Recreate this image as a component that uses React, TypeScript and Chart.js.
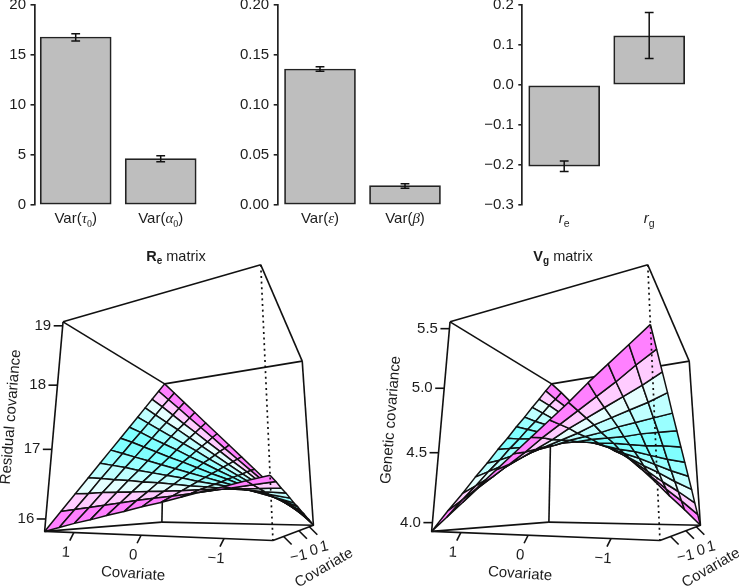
import React, { useEffect, useRef } from "react";
import { Chart, registerables } from "chart.js";
Chart.register(...registerables);

const INK = "#1c1c1c";
const SANS = '"Liberation Sans"';
const SERIF = '"Liberation Serif"';

const barValues1 = [16.8, 4.63];
const barLow1 = [16.4, 4.33];
const barHigh1 = [17.13, 4.93];
const barValues2 = [0.136, 0.0193];
const barLow2 = [0.1337, 0.0167];
const barHigh2 = [0.1383, 0.0213];
const barValues3 = [-0.203, 0.123];
const barLow3 = [-0.216, 0.066];
const barHigh3 = [-0.19, 0.181];

type Seg = { t: string; font: string; dy?: number };
const reg = (t: string): Seg => ({ t, font: `15px ${SANS}` });
const greek = (t: string): Seg => ({ t, font: `italic 15px ${SERIF}` });
const sub = (t: string): Seg => ({ t, font: `10px ${SERIF}`, dy: 4 });
const sub2 = (t: string): Seg => ({ t, font: `10.5px ${SANS}`, dy: 4 });
const categories1 = [
  [reg("Var("), greek("τ"), sub("0"), reg(")")],
  [reg("Var("), greek("α"), sub("0"), reg(")")],
];
const categories2 = [
  [reg("Var("), greek("ε"), reg(")")],
  [reg("Var("), greek("β"), reg(")")],
];
const categories3 = [
  [{ t: "r", font: `italic 15px ${SANS}` }, sub2("e")],
  [{ t: "r", font: `italic 15px ${SANS}` }, sub2("g")],
];

const covariateGrid = [-1.5, -1.25, -1, -0.75, -0.5, -0.25, 0, 0.25, 0.5, 0.75, 1, 1.25, 1.5];
const covariateTicks = [1, 0, -1];
const rowColors = ["#FF80FF", "#FFCCFF", "#E5FFFF", "#BFFFFF", "#99FFFF", "#80FFFF", "#80FFFF", "#99FFFF", "#BFFFFF", "#E5FFFF", "#FFCCFF", "#FF80FF"];

const residualCov = [
  [16.50, 16.45, 16.39, 16.34, 16.28, 16.22, 16.17, 16.11, 16.06, 16.00, 15.95, 15.89, 15.83],
  [16.45, 16.42, 16.39, 16.36, 16.33, 16.30, 16.28, 16.25, 16.22, 16.19, 16.16, 16.13, 16.10],
  [16.39, 16.39, 16.39, 16.39, 16.39, 16.38, 16.38, 16.38, 16.38, 16.38, 16.37, 16.37, 16.37],
  [16.34, 16.36, 16.39, 16.41, 16.44, 16.46, 16.49, 16.51, 16.54, 16.57, 16.59, 16.62, 16.64],
  [16.28, 16.33, 16.39, 16.44, 16.49, 16.54, 16.60, 16.65, 16.70, 16.75, 16.81, 16.86, 16.91],
  [16.22, 16.30, 16.38, 16.46, 16.54, 16.62, 16.70, 16.78, 16.86, 16.94, 17.02, 17.10, 17.18],
  [16.17, 16.28, 16.38, 16.49, 16.60, 16.70, 16.81, 16.92, 17.02, 17.13, 17.24, 17.34, 17.45],
  [16.11, 16.25, 16.38, 16.52, 16.65, 16.78, 16.92, 17.05, 17.19, 17.32, 17.45, 17.59, 17.72],
  [16.06, 16.22, 16.38, 16.54, 16.70, 16.86, 17.02, 17.19, 17.35, 17.51, 17.67, 17.83, 17.99],
  [16.00, 16.19, 16.38, 16.57, 16.75, 16.94, 17.13, 17.32, 17.51, 17.70, 17.88, 18.07, 18.26],
  [15.95, 16.16, 16.38, 16.59, 16.81, 17.02, 17.24, 17.45, 17.67, 17.88, 18.10, 18.32, 18.53],
  [15.89, 16.13, 16.37, 16.62, 16.86, 17.10, 17.35, 17.59, 17.83, 18.07, 18.32, 18.56, 18.80],
  [15.83, 16.10, 16.37, 16.64, 16.91, 17.18, 17.45, 17.72, 17.99, 18.26, 18.53, 18.80, 19.07],
];
const geneticCov = [
  [5.16, 5.06, 4.96, 4.86, 4.75, 4.65, 4.55, 4.45, 4.35, 4.25, 4.14, 4.04, 3.94],
  [5.06, 4.98, 4.89, 4.81, 4.73, 4.65, 4.57, 4.48, 4.40, 4.32, 4.24, 4.16, 4.08],
  [4.96, 4.89, 4.83, 4.77, 4.71, 4.65, 4.58, 4.52, 4.46, 4.40, 4.33, 4.27, 4.21],
  [4.86, 4.81, 4.77, 4.73, 4.69, 4.64, 4.60, 4.56, 4.52, 4.47, 4.43, 4.39, 4.35],
  [4.75, 4.73, 4.71, 4.69, 4.66, 4.64, 4.62, 4.59, 4.57, 4.55, 4.53, 4.50, 4.48],
  [4.65, 4.65, 4.65, 4.64, 4.64, 4.64, 4.63, 4.63, 4.63, 4.62, 4.62, 4.62, 4.62],
  [4.55, 4.57, 4.58, 4.60, 4.62, 4.63, 4.65, 4.67, 4.68, 4.70, 4.72, 4.73, 4.75],
  [4.45, 4.48, 4.52, 4.56, 4.59, 4.63, 4.67, 4.70, 4.74, 4.78, 4.81, 4.85, 4.88],
  [4.35, 4.40, 4.46, 4.52, 4.57, 4.63, 4.68, 4.74, 4.80, 4.85, 4.91, 4.96, 5.02],
  [4.25, 4.32, 4.40, 4.47, 4.55, 4.62, 4.70, 4.78, 4.85, 4.93, 5.00, 5.08, 5.16],
  [4.14, 4.24, 4.33, 4.43, 4.53, 4.62, 4.72, 4.81, 4.91, 5.00, 5.10, 5.20, 5.29],
  [4.04, 4.16, 4.27, 4.39, 4.50, 4.62, 4.73, 4.85, 4.96, 5.08, 5.20, 5.31, 5.43],
  [3.94, 4.08, 4.21, 4.35, 4.48, 4.62, 4.75, 4.89, 5.02, 5.16, 5.29, 5.43, 5.56],
];
const residualTicks = [16, 17, 18, 19];
const geneticTicks = [4.0, 4.5, 5.0, 5.5];

// Calibration of the 3-D box: pixel position of its eight corners in the page.
const boxPixels: [number, number][] = [
  [44.3, 531], [272.7, 541], [313.3, 525], [162.3, 522.3],
  [63.3, 321.7], [261, 265], [302.3, 361], [164.3, 384],
];
const boxUnit = [
  [0, 0, 0], [1, 0, 0], [1, 1, 0], [0, 1, 0],
  [0, 0, 1], [1, 0, 1], [1, 1, 1], [0, 1, 1],
];

function solve(A: number[][], b: number[]) {
  const n = b.length;
  const M = A.map((r, i) => [...r, b[i]]);
  for (let i = 0; i < n; i++) {
    let p = i;
    for (let k = i + 1; k < n; k++) if (Math.abs(M[k][i]) > Math.abs(M[p][i])) p = k;
    [M[i], M[p]] = [M[p], M[i]];
    for (let k = i + 1; k < n; k++) {
      const f = M[k][i] / M[i][i];
      for (let j = i; j <= n; j++) M[k][j] -= f * M[i][j];
    }
  }
  const x = new Array(n).fill(0);
  for (let i = n - 1; i >= 0; i--) {
    let s = M[i][n];
    for (let j = i + 1; j < n; j++) s -= M[i][j] * x[j];
    x[i] = s / M[i][i];
  }
  return x;
}
function calibrate() {
  const rows: number[][] = [];
  const rhs: number[] = [];
  boxUnit.forEach(([s, t, h], i) => {
    const u = boxPixels[i][0] / 300;
    const v = boxPixels[i][1] / 300;
    rows.push([s, t, h, 1, 0, 0, 0, 0, -u * s, -u * t, -u * h]);
    rhs.push(u);
    rows.push([0, 0, 0, 0, s, t, h, 1, -v * s, -v * t, -v * h]);
    rhs.push(v);
  });
  const n = 11;
  const N = Array.from({ length: n }, (_, i) =>
    Array.from({ length: n }, (_, j) => rows.reduce((acc, r) => acc + r[i] * r[j], 0))
  );
  const y = Array.from({ length: n }, (_, i) => rows.reduce((acc, r, k) => acc + r[i] * rhs[k], 0));
  return solve(N, y);
}
const P = calibrate();
function project(s: number, t: number, h: number) {
  const w = P[8] * s + P[9] * t + P[10] * h + 1;
  return {
    x: (300 * (P[0] * s + P[1] * t + P[2] * h + P[3])) / w,
    y: (300 * (P[4] * s + P[5] * t + P[6] * h + P[7])) / w,
    w,
  };
}

function richWidth(ctx: CanvasRenderingContext2D, segs: Seg[]) {
  return segs.reduce((acc, s) => {
    ctx.font = s.font;
    return acc + ctx.measureText(s.t).width;
  }, 0);
}
function drawRich(ctx: CanvasRenderingContext2D, segs: Seg[], cx: number, y: number) {
  let x = cx - richWidth(ctx, segs) / 2;
  ctx.textAlign = "left";
  ctx.textBaseline = "alphabetic";
  ctx.fillStyle = INK;
  segs.forEach((s) => {
    ctx.font = s.font;
    ctx.fillText(s.t, x, y + (s.dy || 0));
    x += ctx.measureText(s.t).width;
  });
}

type BarSpec = {
  left: number; width: number; axisX: number; firstX: number;
  values: number[]; low: number[]; high: number[]; cats: Seg[][];
  min: number; max: number; step: number; digits: number;
};
const barSpecs: BarSpec[] = [
  { left: 0, width: 205, axisX: 34.5, firstX: 75.7, values: barValues1, low: barLow1, high: barHigh1, cats: categories1, min: 0, max: 20, step: 5, digits: 0 },
  { left: 240, width: 205, axisX: 37.7, firstX: 80, values: barValues2, low: barLow2, high: barHigh2, cats: categories2, min: 0, max: 0.2, step: 0.05, digits: 2 },
  { left: 484, width: 205, axisX: 38.3, firstX: 80.2, values: barValues3, low: barLow3, high: barHigh3, cats: categories3, min: -0.3, max: 0.2, step: 0.1, digits: 1 },
];
const BAR_SPACING = 85;
const BAR_WIDTH = 71;

function BarPanel({ spec }: { spec: BarSpec }) {
  const ref = useRef<HTMLCanvasElement>(null);
  useEffect(() => {
    const plugin = {
      id: "errAndLabels",
      afterDatasetsDraw(chart: any) {
        const { ctx, scales } = chart;
        ctx.save();
        ctx.strokeStyle = "#111";
        ctx.lineWidth = 1.5;
        spec.values.forEach((_, i) => {
          const x = scales.x.getPixelForValue(i);
          const a = scales.y.getPixelForValue(spec.low[i]);
          const b = scales.y.getPixelForValue(spec.high[i]);
          ctx.beginPath();
          ctx.moveTo(x, a); ctx.lineTo(x, b);
          ctx.moveTo(x - 4.4, a); ctx.lineTo(x + 4.4, a);
          ctx.moveTo(x - 4.4, b); ctx.lineTo(x + 4.4, b);
          ctx.stroke();
          drawRich(ctx, spec.cats[i], x, 233);
        });
        ctx.restore();
      },
    };
    const chart = new Chart(ref.current!, {
      type: "bar",
      plugins: [plugin],
      data: {
        datasets: [{
          data: spec.values.map((y, i) => ({ x: i, y })) as any,
          backgroundColor: "#BEBEBE",
          borderColor: "#222",
          borderWidth: 1.7,
          borderSkipped: false,
          barThickness: BAR_WIDTH,
        }],
      },
      options: {
        animation: false,
        responsive: false,
        devicePixelRatio: 1,
        layout: { padding: { top: 15, bottom: 35 } },
        plugins: { legend: { display: false }, tooltip: { enabled: false } },
        scales: {
          x: {
            type: "linear", display: false, offset: false,
            min: (spec.axisX - spec.firstX) / BAR_SPACING,
            max: (spec.width - spec.firstX) / BAR_SPACING,
          },
          y: {
            min: spec.min, max: spec.max,
            afterFit: (s: any) => { s.width = spec.axisX; },
            border: { color: "#222", width: 1.7 },
            grid: { drawOnChartArea: false, tickLength: 4, color: "#222", lineWidth: 1.6 },
            ticks: {
              stepSize: spec.step, padding: 4.5, color: INK,
              font: { family: SANS, size: 15 },
              callback: (v: any) => Number(v).toFixed(spec.digits).replace("-", "−"),
            },
          },
        },
      } as any,
    });
    return () => chart.destroy();
  }, []);
  return <canvas ref={ref} width={spec.width} height={250} style={{ position: "absolute", left: spec.left, top: -10 }} />;
}

type SurfSpec = {
  left: number; width: number; shift: number; table: number[][]; zMin: number; zMax: number;
  zTicks: number[]; zDigits: number; zTitle: string; zTitleX: number; zTitleY: number;
  title: Seg[]; titleX: number;
};
const titleFont = `14.5px ${SANS}`;
const surfSpecs: SurfSpec[] = [
  {
    left: 0, width: 370, shift: 0, table: residualCov, zMin: 15.83, zMax: 19.07,
    zTicks: residualTicks, zDigits: 0, zTitle: "Residual covariance", zTitleX: 11, zTitleY: 417,
    title: [{ t: "R", font: `bold ${titleFont}` }, { t: "e", font: `bold 10px ${SANS}`, dy: 3 }, { t: " matrix", font: titleFont }], titleX: 176,
  },
  {
    left: 370, width: 369, shift: 387, table: geneticCov, zMin: 3.94, zMax: 5.56,
    zTicks: geneticTicks, zDigits: 1, zTitle: "Genetic covariance", zTitleX: 391, zTitleY: 420,
    title: [{ t: "V", font: `bold ${titleFont}` }, { t: "g", font: `bold 10px ${SANS}`, dy: 3 }, { t: " matrix", font: titleFont }], titleX: 563,
  },
];

const LW = 1.6;
function SurfacePanel({ spec }: { spec: SurfSpec }) {
  const ref = useRef<HTMLCanvasElement>(null);
  useEffect(() => {
    const sx = (x: number) => (1.5 - x) / 3;
    const ty = (y: number) => (y + 1.5) / 3;
    const hz = (z: number) => (z - spec.zMin) / (spec.zMax - spec.zMin);
    const pt = (s: number, t: number, h: number) => {
      const p = project(s, t, h);
      return { x: p.x + spec.shift, y: p.y };
    };
    const c = boxUnit.map(([s, t, h]) => pt(s, t, h));
    const [A, B, C, D, A1, B1, C1, D1] = c;
    const line = (pts: { x: number; y: number }[], extra: any = {}) => ({
      data: pts, showLine: true, borderColor: "#111", borderWidth: LW, pointRadius: 0, tension: 0, fill: false, ...extra,
    });
    const sets: any[] = [];
    // back of the box
    sets.push(line([A, D]), line([D, C]), line([A1, D1]), line([D1, C1]), line([D, D1]));
    // surface, far to near
    const quads: any[] = [];
    const n = covariateGrid.length;
    for (let i = 0; i < n - 1; i++) {
      for (let j = 0; j < n - 1; j++) {
        const corners = [[i, j], [i + 1, j], [i + 1, j + 1], [i, j + 1]];
        const pts3 = corners.map(([a, b]) => [sx(covariateGrid[a]), ty(covariateGrid[b]), hz(spec.table[a][b])]);
        const m = pts3.reduce((acc, p) => [acc[0] + p[0] / 4, acc[1] + p[1] / 4, acc[2] + p[2] / 4], [0, 0, 0]);
        const pts = pts3.map(([s, t, h]) => pt(s, t, h));
        quads.push({ depth: project(m[0], m[1], m[2]).w, pts: [...pts, pts[0]], color: rowColors[j] });
      }
    }
    quads.sort((a, b) => b.depth - a.depth);
    quads.forEach((q) => sets.push(line(q.pts, { fill: "shape", backgroundColor: q.color, borderWidth: 1.5, borderJoinStyle: "round" })));
    // front of the box
    sets.push(line([A, A1]), line([A1, B1]), line([B1, C1]), line([C1, C]), line([A, B]), line([B, C]));
    sets.push(line([B1, B], { borderDash: [2, 3.6], borderWidth: 1.7 }));
    // tick marks
    spec.zTicks.forEach((z) => {
      const p = pt(0, 0, hz(z));
      sets.push(line([p, { x: p.x - 9, y: p.y }]));
    });
    covariateTicks.forEach((v) => {
      const p = pt(sx(v), 0, 0);
      sets.push(line([p, { x: p.x - 4, y: p.y + 8 }]));
      const q = pt(1, ty(v), 0);
      sets.push(line([q, { x: q.x + 8, y: q.y + 8 }]));
    });

    const rot = (ctx: any, text: string, x: number, y: number, deg: number) => {
      ctx.save();
      ctx.translate(x, y);
      ctx.rotate((deg * Math.PI) / 180);
      ctx.textAlign = "center";
      ctx.textBaseline = "middle";
      ctx.fillText(text, 0, 0);
      ctx.restore();
    };
    const plugin = {
      id: "labels3d",
      afterDraw(chart: any) {
        const { ctx, scales } = chart;
        const X = (v: number) => scales.x.getPixelForValue(v);
        const Y = (v: number) => scales.y.getPixelForValue(v);
        ctx.save();
        ctx.fillStyle = INK;
        ctx.font = `15px ${SANS}`;
        spec.zTicks.forEach((z) => {
          const p = pt(0, 0, hz(z));
          ctx.textAlign = "right";
          ctx.textBaseline = "middle";
          ctx.fillText(z.toFixed(spec.zDigits), X(p.x - 11.5), Y(p.y));
        });
        covariateTicks.forEach((v) => {
          const p = pt(sx(v), 0, 0);
          rot(ctx, String(v).replace("-", "−"), X(p.x - 8), Y(p.y + 20), 3);
          const q = pt(1, ty(v), 0);
          rot(ctx, String(v).replace("-", "−"), X(q.x + 15), Y(q.y + 20), -12);
        });
        rot(ctx, "Covariate", X(133 + spec.shift), Y(574), 4);
        rot(ctx, "Covariate", X(324 + spec.shift), Y(568), -30);
        rot(ctx, spec.zTitle, X(spec.zTitleX), Y(spec.zTitleY), -85.5);
        drawRich(ctx, spec.title, X(spec.titleX), Y(261));
        ctx.restore();
      },
    };
    const chart = new Chart(ref.current!, {
      type: "scatter",
      plugins: [plugin],
      data: { datasets: sets.reverse() },
      options: {
        animation: false,
        responsive: false,
        devicePixelRatio: 1,
        layout: { padding: 0 },
        plugins: { legend: { display: false }, tooltip: { enabled: false } },
        scales: {
          x: { type: "linear", display: false, min: spec.left, max: spec.left + spec.width },
          y: { type: "linear", display: false, reverse: true, min: 240, max: 586 },
        },
      } as any,
    });
    return () => chart.destroy();
  }, []);
  return <canvas ref={ref} width={spec.width} height={346} style={{ position: "absolute", left: spec.left, top: 240 }} />;
}

export default function App() {
  return (
    <div style={{ position: "absolute", left: 0, top: 0, width: 739, height: 586, overflow: "hidden", background: "#fff" }}>
      {barSpecs.map((s, i) => <BarPanel key={i} spec={s} />)}
      {surfSpecs.map((s, i) => <SurfacePanel key={i} spec={s} />)}
    </div>
  );
}
